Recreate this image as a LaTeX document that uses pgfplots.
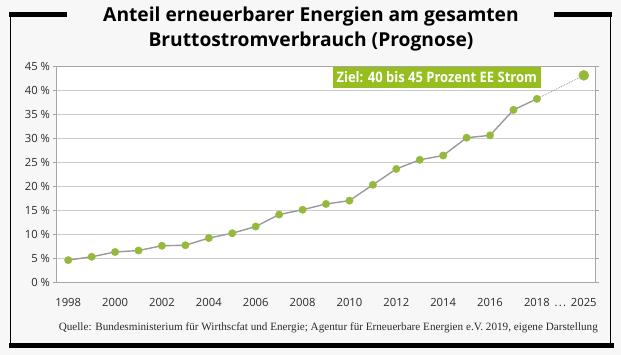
\documentclass[border=0pt]{standalone}
\usepackage{pgfplots}
\pgfplotsset{compat=1.18}
\usepackage{fontspec}
\setmainfont{Open Sans}
\newfontfamily\seriffont{Liberation Serif}
\definecolor{bg}{HTML}{F7F7F7}
\definecolor{zielgreen}{HTML}{95BE1E}
\definecolor{markgreen}{HTML}{95B93A}
\definecolor{linegray}{HTML}{9A9A9A}
\definecolor{gridgray}{HTML}{CCCCCC}
\definecolor{axisgray}{HTML}{A6A6A6}
\definecolor{textdark}{HTML}{2B2B2B}
\begin{document}
\begin{tikzpicture}
\useasboundingbox (0bp,0bp) rectangle (621bp,355bp);
\fill[bg] (0bp,0bp) rectangle (621bp,355bp);
% frame
\draw[line width=4.7bp] (9bp,340.7bp) -- (67bp,340.7bp);
\draw[line width=4.7bp] (554bp,340.7bp) -- (612bp,340.7bp);
\draw[line width=1.3bp] (10.7bp,343bp) -- (10.7bp,9.2bp);
\draw[line width=1.3bp] (610.3bp,343bp) -- (610.3bp,9.2bp);
\draw[line width=5bp] (9bp,9.2bp) -- (614bp,9.2bp);
% title
\node[anchor=base, font=\fontsize{19.3}{23}\selectfont\bfseries, text=black, inner sep=0] at (311bp,333bp) {Anteil erneuerbarer Energien am gesamten};
\node[anchor=base, font=\fontsize{19.3}{23}\selectfont\bfseries, text=black, inner sep=0] at (311bp,308bp) {Bruttostromverbrauch (Prognose)};
% source
\node[anchor=base east, font=\seriffont\fontsize{11.2}{13}\selectfont, text=textdark, inner sep=0] at (598bp,25bp) {Quelle: Bundesministerium für Wirthscfat und Energie; Agentur für Erneuerbare Energien e.V. 2019, eigene Darstellung};
\begin{axis}[
  at={(56.5bp,72.3bp)}, anchor=south west,
  scale only axis, width=539bp, height=216bp,
  xmin=-0.5, xmax=22.5, ymin=0, ymax=45,
  axis background/.style={fill=white},
  axis line style={axisgray, line width=0.8bp},
  ytick={0,5,...,45},
  yticklabel={\pgfmathprintnumber{\tick}~\%},
  xtick={0,2,4,6,8,10,12,14,16,18,20,21,22},
  xticklabels={1998,2000,2002,2004,2006,2008,2010,2012,2014,2016,2018,{.\kern1.2pt.\kern1.2pt.},2025},
  x tick style={draw=none},
  y tick style={axisgray, line width=0.8bp},
  tick align=outside, major tick length=3bp,
  ymajorgrids, grid style={gridgray, line width=0.8bp},
  ticklabel style={font=\fontsize{11.3}{13}\selectfont, text=textdark},
  /pgf/number format/assume math mode=true,
  xticklabel style={anchor=base, yshift=-21bp},
  clip=false,
]
\addplot[linegray, line width=1.4bp, mark=*, mark size=3.7bp,
  mark options={solid, draw=markgreen, fill=markgreen, line width=0.4bp}] coordinates {
(0,4.7) (1,5.4) (2,6.4) (3,6.7) (4,7.7) (5,7.8) (6,9.3) (7,10.3) (8,11.7)
(9,14.2) (10,15.2) (11,16.4) (12,17.1) (13,20.4) (14,23.7) (15,25.6)
(16,26.5) (17,30.2) (18,30.7) (19,36.0) (20,38.3)};
\addplot[linegray, line width=0.8bp, densely dotted] coordinates {(20,38.3) (22,43.2)};
\addplot[only marks, mark=*, mark size=5bp, mark options={solid, draw=markgreen, fill=markgreen, line width=0.4bp}] coordinates {(22,43.2)};
\node[anchor=north east, fill=zielgreen, minimum height=21bp, inner xsep=4bp, inner ysep=0pt,
  text=white, font=\fontsize{14.5}{16}\selectfont\bfseries] at (rel axis cs:0.899,1)
  {\scalebox{0.9}[1]{Ziel: 40 bis 45 Prozent EE Strom}};
\end{axis}
\end{tikzpicture}
\end{document}
